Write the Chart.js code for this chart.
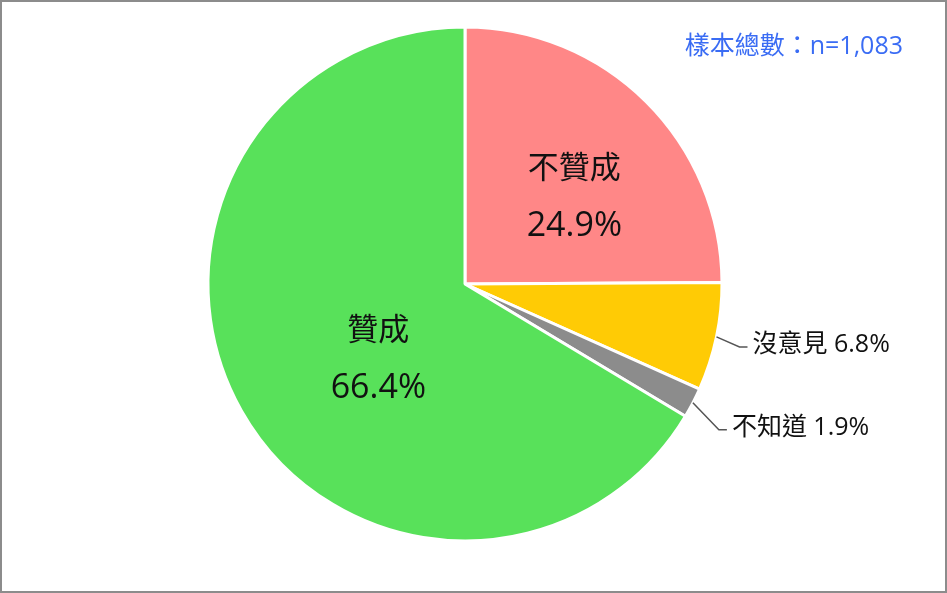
<!DOCTYPE html>
<html>
<head>
<meta charset="utf-8">
<script src="https://cdn.jsdelivr.net/npm/chart.js@4.4.0/dist/chart.umd.min.js"></script>
<style>
html, body { margin: 0; padding: 0; background: #fff; }
#wrap { position: relative; width: 947px; height: 593px; }
#frame { position: absolute; left: 0; top: 0; width: 947px; height: 593px; box-sizing: border-box; border: 2px solid #8c8c8c; pointer-events: none; }
</style>
</head>
<body>
<div id="wrap">
  <canvas id="pie"></canvas>
  <div id="frame"></div>
</div>
<script>
const categories = ['不贊成', '沒意見', '不知道', '贊成']
const shares = [24.9, 6.8, 1.9, 66.4]
const sampleSize = '1,083'

const colors = ['#ff8787', '#ffcb05', '#8c8c8c', '#58e15a']
const FONT = '"Open Sans", "Noto Sans CJK TC", sans-serif'

// where the text sits for each slice: inside (fraction of sweep, fraction of radius) or outside with a leader
const placement = [
    { inside: true, t: 0.58, r: 0.54 },
    { inside: false, dx: 23, dy: 10 },
    { inside: false, dx: 26, dy: 27 },
    { inside: true, t: 0.45, r: 0.45 }
]

const labelPlugin = {
    id: 'sliceLabels',
    afterDatasetsDraw(chart) {
        const ctx = chart.ctx
        const arcs = chart.getDatasetMeta(0).data
        ctx.save()
        arcs.forEach((arc, i) => {
            const p = placement[i]
            const { x, y, startAngle, endAngle, outerRadius } = arc.getProps(['x', 'y', 'startAngle', 'endAngle', 'outerRadius'], true)
            const pct = shares[i].toFixed(1) + '%'
            ctx.fillStyle = '#111'
            if (p.inside) {
                const a = startAngle + p.t * (endAngle - startAngle)
                const cx = x + Math.cos(a) * p.r * outerRadius
                const cy = y + Math.sin(a) * p.r * outerRadius
                ctx.textAlign = 'center'
                ctx.textBaseline = 'middle'
                ctx.font = '31px ' + FONT
                ctx.fillText(categories[i], cx, cy - 29)
                ctx.font = '34px ' + FONT
                ctx.fillText(pct, cx, cy + 28)
            } else {
                const a = (startAngle + endAngle) / 2
                const ex = x + Math.cos(a) * outerRadius
                const ey = y + Math.sin(a) * outerRadius
                const bx = ex + p.dx
                const by = ey + p.dy
                ctx.strokeStyle = '#555'
                ctx.lineWidth = 1.5
                ctx.beginPath()
                ctx.moveTo(ex, ey)
                ctx.lineTo(bx, by)
                ctx.lineTo(bx + 8, by)
                ctx.stroke()
                ctx.font = '25px ' + FONT
                ctx.textAlign = 'left'
                ctx.textBaseline = 'middle'
                ctx.fillText(categories[i] + ' ' + pct, bx + 13, by - 2)
            }
        })
        ctx.font = '25px ' + FONT
        ctx.fillStyle = '#3a6cf4'
        ctx.textAlign = 'right'
        ctx.textBaseline = 'middle'
        ctx.fillText('樣本總數：n=' + sampleSize, 903, 47)
        ctx.restore()
    }
}

const ctx = document.getElementById('pie').getContext('2d')
const chart = new Chart(ctx, {
    type: 'pie',
    data: {
        labels: categories,
        datasets: [{
            data: shares,
            backgroundColor: colors,
            borderColor: '#ffffff',
            borderWidth: 3
        }]
    },
    options: {
        responsive: true,
        maintainAspectRatio: false,
        animation: false,
        radius: 257,
        layout: { padding: { left: 208, right: 225, top: 27, bottom: 52 } },
        plugins: {
            legend: { display: false },
            tooltip: { enabled: false }
        }
    },
    plugins: [labelPlugin]
})
</script>
</body>
</html>
